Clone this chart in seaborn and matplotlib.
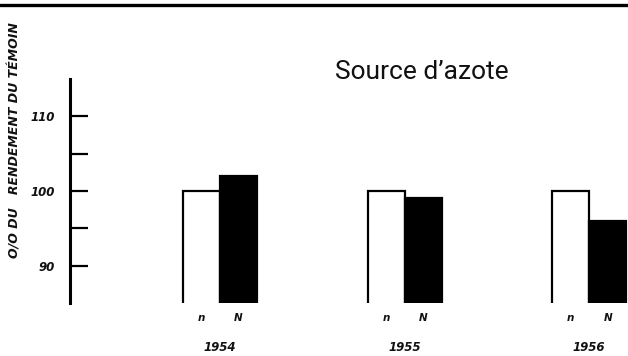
import matplotlib
matplotlib.use("Agg")
import matplotlib.pyplot as plt
from matplotlib.lines import Line2D
from matplotlib.ticker import FixedLocator
import seaborn as sns
import pandas as pd

# Yield as a percentage of the control, per year and nitrogen source
years = ["1954", "1955", "1956"]
sources = ["n", "N"]
n_values = [100, 100, 100]
N_values = [102, 99, 96]
y_ticks_major = [90, 100, 110]
y_ticks_minor = [95, 105]

df = pd.DataFrame({
    "year": years * 2,
    "source": ["n"] * len(years) + ["N"] * len(years),
    "value": n_values + N_values,
})

sns.set_theme(style="white")
plt.rcParams["font.family"] = ["DejaVu Sans"]

W, H = 628, 356
fig = plt.figure(figsize=(W / 100, H / 100), dpi=100)
ax = fig.add_axes([70 / W, 53 / H, 558 / W, 224 / H])

sns.barplot(
    data=df, x="year", y="value", hue="source", order=years, hue_order=sources,
    palette={"n": "white", "N": "black"}, saturation=1,
    edgecolor="black", linewidth=1.6, width=0.4, legend=False, ax=ax,
)

ax.set_ylim(85, 115)
ax.set_xlim(-0.8125, 2.21)
ax.set_xlabel("")
ax.set_ylabel("")

for side in ("top", "right", "bottom"):
    ax.spines[side].set_visible(False)
ax.spines["left"].set_linewidth(2.2)
ax.spines["left"].set_color("black")

ax.yaxis.set_major_locator(FixedLocator(y_ticks_major))
ax.yaxis.set_minor_locator(FixedLocator(y_ticks_minor))
ax.tick_params(axis="y", which="both", direction="in", length=13, width=1.6,
               color="black", left=True, pad=11)
ax.tick_params(axis="x", bottom=False, labelbottom=False)
for lbl in ax.get_yticklabels():
    lbl.set_fontsize(8.5)
    lbl.set_fontweight("bold")
    lbl.set_fontstyle("italic")
    lbl.set_color("#111111")

# Source letters under each bar and year under each pair
for i, yr in enumerate(years):
    ax.text(i - 0.1, 83.0, sources[0], ha="center", va="center", fontsize=7.5,
            fontweight="bold", style="italic", color="#111111", clip_on=False)
    ax.text(i + 0.1, 83.0, sources[1], ha="center", va="center", fontsize=7.5,
            fontweight="bold", style="italic", color="#111111", clip_on=False)
    ax.text(i, 79.1, yr, ha="center", va="center", fontsize=8.5,
            fontweight="bold", style="italic", color="#111111", clip_on=False)

fig.text(422 / W, 1 - 72 / H, "Source d\u2019azote", ha="center", va="center",
         fontsize=19, family=["Roboto", "DejaVu Sans"], color="#111111")

fig.text(15 / W, 1 - 140 / H, "O/O DU   RENDEMENT DU TÉMOIN", rotation=90,
         ha="center", va="center", fontsize=9, fontweight="bold",
         style="italic", color="#111111")

fig.add_artist(Line2D([0, 1], [1 - 5 / H, 1 - 5 / H], transform=fig.transFigure,
                      color="black", linewidth=2.4))

fig.savefig("out.png", dpi=100, facecolor="white")
